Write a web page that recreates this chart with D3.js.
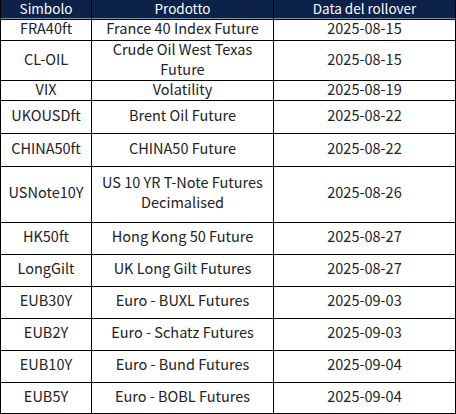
<!DOCTYPE html><html><head><meta charset="utf-8"><script src="https://cdn.jsdelivr.net/npm/d3@7"></script>
<style>body{margin:0;background:#fff}</style></head><body><svg id="c" width="456" height="414"></svg>
<script>
const headers = ["Simbolo","Prodotto","Data del rollover"];
const symbols = ["FRA40ft","CL-OIL","VIX","UKOUSDft","CHINA50ft","USNote10Y","HK50ft","LongGilt","EUB30Y","EUB2Y","EUB10Y","EUB5Y"];
const products = [["France 40 Index Future"],["Crude Oil West Texas","Future"],["Volatility"],["Brent Oil Future"],["CHINA50 Future"],["US 10 YR T-Note Futures","Decimalised"],["Hong Kong 50 Future"],["UK Long Gilt Futures"],["Euro - BUXL Futures"],["Euro - Schatz Futures"],["Euro - Bund Futures"],["Euro - BOBL Futures"]];
const dates = ["2025-08-15","2025-08-15","2025-08-19","2025-08-22","2025-08-22","2025-08-26","2025-08-27","2025-08-27","2025-09-03","2025-09-03","2025-09-04","2025-09-04"];

const svg = d3.select("#c");
const colEdges = [0.5,91.5,273.5,455.5];
const rowEdges = [0,18.5,39.5,80,100,133,165.5,221.5,253.5,285.5,317.5,349.5,381.5,413];
const font = "'Noto Sans CJK SC','Noto Sans',sans-serif";
svg.append("rect").attr("x",0).attr("y",0).attr("width",456).attr("height",rowEdges[1]).attr("fill","#0c2249");
headers.forEach((h,i)=>{
  svg.append("text").attr("x",(colEdges[i]+colEdges[i+1])/2).attr("y",rowEdges[1]/2+1).attr("text-anchor","middle")
   .attr("dominant-baseline","middle").attr("fill","#fff").attr("font-family",font).attr("font-size",13.5).text(h);
});
symbols.forEach((s,r)=>{
  const y0=rowEdges[r+1], y1=rowEdges[r+2], cy=(y0+y1)/2;
  const cells=[[s],products[r],[dates[r]]];
  cells.forEach((lines,c)=>{
    const cx=(colEdges[c]+colEdges[c+1])/2;
    lines.forEach((t,k)=>{
      svg.append("text").attr("x",cx).attr("y",cy+(k-(lines.length-1)/2)*20+1).attr("text-anchor","middle")
        .attr("dominant-baseline","middle").attr("fill","#222").attr("font-family",font).attr("font-size",14.5).text(t);
    });
  });
});
const g=svg.append("g").attr("stroke","#000").attr("stroke-width",1);
rowEdges.slice(1).forEach(y=>g.append("line").attr("x1",0).attr("x2",456).attr("y1",Math.round(y)+0.5).attr("y2",Math.round(y)+0.5));
colEdges.forEach(x=>g.append("line").attr("x1",x).attr("x2",x).attr("y1",0).attr("y2",414));
</script></body></html>
